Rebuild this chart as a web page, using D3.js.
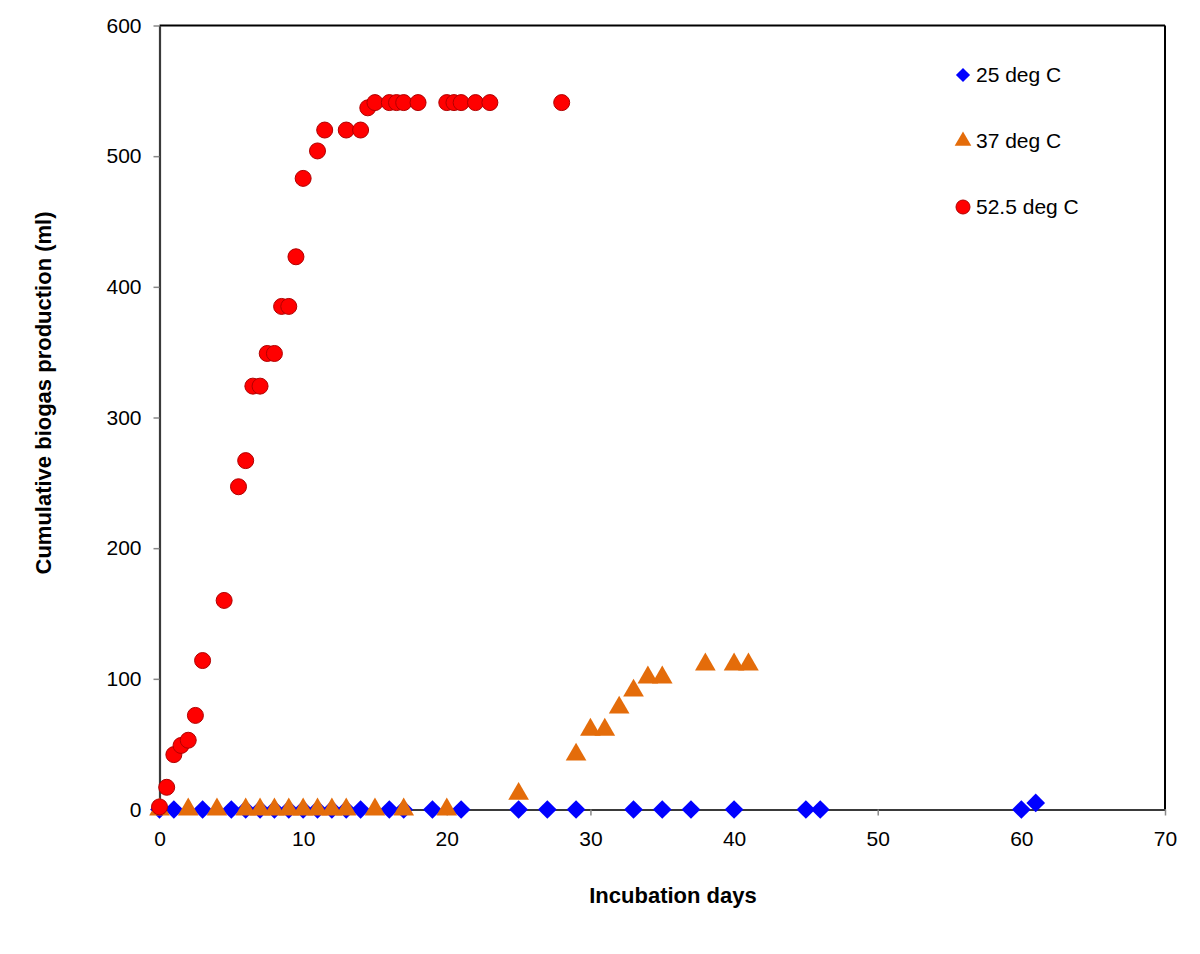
<!DOCTYPE html>
<html><head><meta charset="utf-8">
<script src="https://cdn.jsdelivr.net/npm/d3@7"></script>
<style>body{margin:0;background:#fff}svg{display:block;font-family:Arial,"Liberation Sans",sans-serif}</style>
</head><body>
<svg id="c" width="1200" height="954"></svg>
<script>
const seriesNames = ["25 deg C", "37 deg C", "52.5 deg C"];
const xTicks = [0, 10, 20, 30, 40, 50, 60, 70];
const yTicks = [0, 100, 200, 300, 400, 500, 600];

const days25 = [0, 1, 3, 5, 6, 7, 8, 9, 10, 11, 12, 13, 14, 16, 17, 19, 21, 25, 27, 29, 33, 35, 37, 40, 45, 46, 60, 61];
const vals25 = [0, 0, 0, 0, 0, 0, 0, 0, 0, 0, 0, 0, 0, 0, 0, 0, 0, 0, 0, 0, 0, 0, 0, 0, 0, 0, 0, 5];

const days37 = [0, 2, 4, 6, 7, 8, 9, 10, 11, 12, 13, 15, 17, 20, 25, 29, 30, 31, 32, 33, 34, 35, 38, 40, 41];
const vals37 = [0, 0, 0, 0, 0, 0, 0, 0, 0, 0, 0, 0, 0, 0, 12, 42, 61, 61, 78, 91, 101, 101, 111, 111, 111];

const days52 = [0, 0.5, 1, 1.5, 2, 2.5, 3, 4.5, 5.5, 6, 6.5, 7, 7.5, 8, 8.5, 9, 9.5, 10, 11, 11.5, 13, 14, 14.5, 15, 16, 16.5, 17, 18, 20, 20.5, 21, 22, 23, 28];
const vals52 = [2, 17, 42, 49, 53, 72, 114, 160, 247, 267, 324, 324, 349, 349, 385, 385, 423, 483, 504, 520, 520, 520, 537, 541, 541, 541, 541, 541, 541, 541, 541, 541, 541, 541];

const svg = d3.select("#c");
const L = 159.5, R = 1165, T = 25.5, B = 809.5;
const x = d3.scaleLinear().domain([0, 70]).range([L, R]);
const y = d3.scaleLinear().domain([0, 600]).range([B, T]);

// frame (top/right)
svg.append("line").attr("x1", L).attr("x2", R).attr("y1", T).attr("y2", T).attr("stroke", "#000").attr("stroke-width", 2);
svg.append("line").attr("x1", R).attr("x2", R).attr("y1", T).attr("y2", B).attr("stroke", "#000").attr("stroke-width", 2);

const xAxis = svg.append("g").attr("transform", `translate(0,${B})`)
  .call(d3.axisBottom(x).tickValues(xTicks).tickSize(6).tickSizeOuter(0).tickPadding(16));
const yAxis = svg.append("g").attr("transform", `translate(${L},0)`)
  .call(d3.axisLeft(y).tickValues(yTicks).tickSize(6).tickSizeOuter(0).tickPadding(12));
[xAxis, yAxis].forEach(g => {
  g.select(".domain").attr("stroke", "#3a3a3a").attr("stroke-width", 2.2);
  g.selectAll(".tick line").attr("stroke", "#888").attr("stroke-width", 1.5);
  g.selectAll(".tick text").attr("font-size", 21).attr("fill", "#000").attr("font-family", "Arial, 'Liberation Sans', sans-serif");
});

// series
const g = svg.append("g");
const diamond = d3.symbol().type(d3.symbolSquare).size(175);
const tri = d3.symbol().type(d3.symbolTriangle).size(185);

g.selectAll("path.d25").data(days25.map((d, i) => [d, vals25[i]])).join("path")
  .attr("class", "d25").attr("d", diamond)
  .attr("transform", d => `translate(${x(d[0])},${y(d[1])}) rotate(45)`)
  .attr("fill", "#0000ff");

g.selectAll("path.d37").data(days37.map((d, i) => [d, vals37[i]])).join("path")
  .attr("class", "d37").attr("d", tri)
  .attr("transform", d => `translate(${x(d[0])},${y(d[1])})`)
  .attr("fill", "#e46c0a");

g.selectAll("circle.d52").data(days52.map((d, i) => [d, vals52[i]])).join("circle")
  .attr("class", "d52").attr("cx", d => x(d[0])).attr("cy", d => y(d[1])).attr("r", 8)
  .attr("fill", "#ff0000").attr("stroke", "#b00000").attr("stroke-width", 1);

// legend
const lg = svg.append("g");
const ly = [75, 141, 207];
lg.append("path").attr("d", d3.symbol().type(d3.symbolSquare).size(100)).attr("transform", `translate(963,${ly[0]}) rotate(45)`).attr("fill", "#0000ff");
lg.append("path").attr("d", d3.symbol().type(d3.symbolTriangle).size(120)).attr("transform", `translate(963,${ly[1]})`).attr("fill", "#e46c0a");
lg.append("circle").attr("cx", 963).attr("cy", ly[2]).attr("r", 7).attr("fill", "#ff0000").attr("stroke", "#b00000");
seriesNames.forEach((n, i) => {
  lg.append("text").attr("x", 976).attr("y", ly[i]).attr("dy", "0.35em").attr("font-size", 21).text(n);
});

// titles
svg.append("text").attr("x", 673).attr("y", 903).attr("text-anchor", "middle").attr("font-size", 22).attr("font-weight", "bold").text("Incubation days");
svg.append("text").attr("transform", "translate(51,393) rotate(-90)").attr("text-anchor", "middle").attr("font-size", 22).attr("font-weight", "bold").text("Cumulative biogas production  (ml)");
</script>
</body></html>
